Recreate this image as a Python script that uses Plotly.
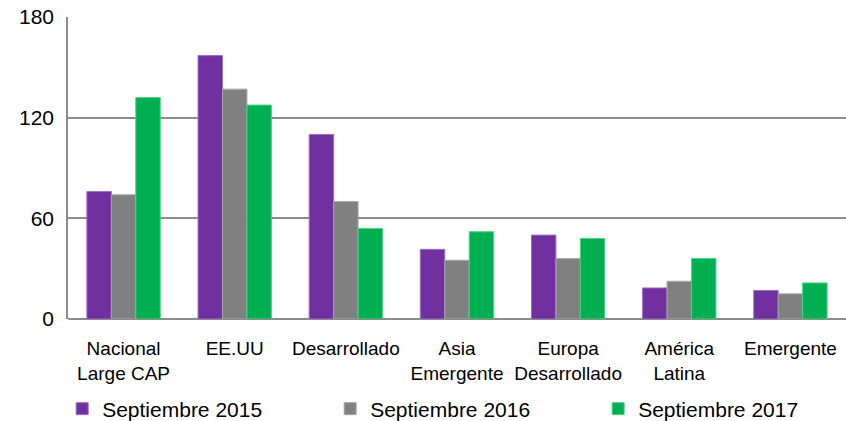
import plotly.graph_objects as go

categories = ["Nacional<br>Large CAP", "EE.UU", "Desarrollado", "Asia<br>Emergente",
              "Europa<br>Desarrollado", "América<br>Latina", "Emergente"]
sep_2015 = [76, 157, 110, 41.5, 50, 18.5, 17]
sep_2016 = [74, 137, 70, 35, 36, 22.5, 15]
sep_2017 = [132, 127.5, 54, 52, 48, 36, 21.5]
series_names = ["Septiembre 2015", "Septiembre 2016", "Septiembre 2017"]
y_ticks = [0, 60, 120, 180]

colors = ["#7030A0", "#808080", "#00B050"]
borders = ["#9C6CC0", "#A6A6A6", "#4CD08A"]
FONT = "Liberation Sans, Arial, sans-serif"

fig = go.Figure()
for name, vals, c, b in zip(series_names, [sep_2015, sep_2016, sep_2017], colors, borders):
    fig.add_trace(go.Bar(x=categories, y=vals, name=name,
                         marker=dict(color=c, line=dict(color=b, width=1))))

fig.update_layout(
    width=846, height=421,
    margin=dict(l=68, r=0, t=17, b=102, autoexpand=False),
    paper_bgcolor="white", plot_bgcolor="white",
    barmode="group", bargap=0.34, bargroupgap=0,
    font=dict(family=FONT, size=19, color="#000000"),
    showlegend=True,
    legend=dict(orientation="h", x=-0.0075, xanchor="left", y=-0.298, yanchor="middle",
                font=dict(size=21), entrywidth=223, entrywidthmode="pixels",
                itemwidth=30, tracegroupgap=0, bgcolor="rgba(0,0,0,0)"),
    xaxis=dict(showgrid=False, showline=False, ticks="", tickfont=dict(size=19),
               ticklabelstandoff=16),
    yaxis=dict(range=[0, 180], tickvals=y_ticks, showgrid=True, gridcolor="#8C8C8C", gridwidth=1.5,
               showline=True, linecolor="#8C8C8C", linewidth=1.5, zeroline=True,
               zerolinecolor="#8C8C8C", zerolinewidth=1.5, ticks="", tickfont=dict(size=21),
               ticklabelstandoff=8),
)
fig.write_html("out.html", config={"displayModeBar": False},
               post_script="document.body.style.margin='0';")
